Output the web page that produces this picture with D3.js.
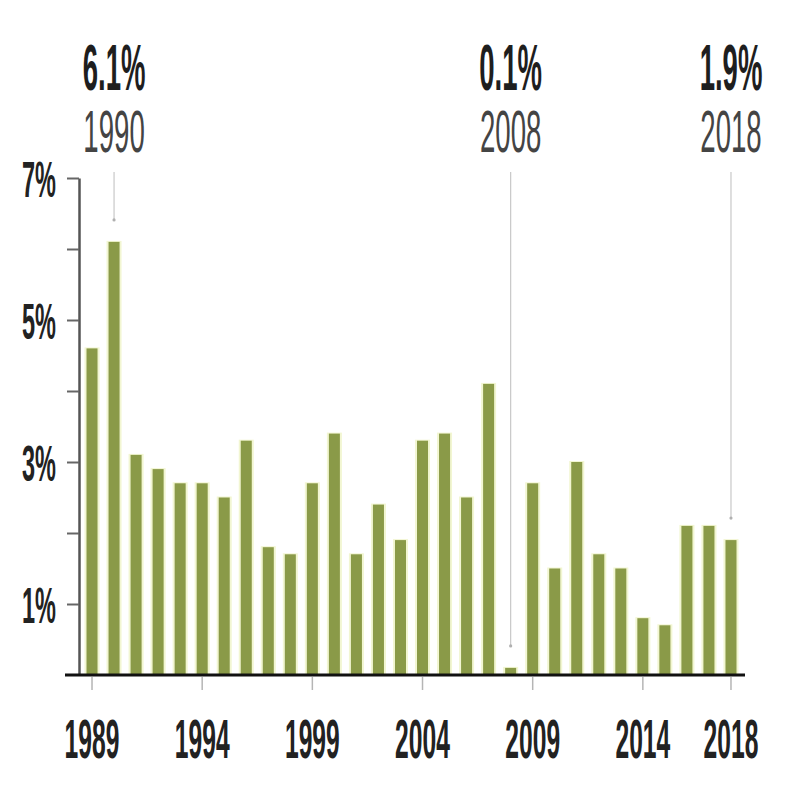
<!DOCTYPE html>
<html>
<head>
<meta charset="utf-8">
<script src="https://cdn.jsdelivr.net/npm/d3@7"></script>
<style>
html,body{margin:0;padding:0;background:#fff;}
svg{display:block;}
</style>
</head>
<body>
<svg id="chart" width="800" height="800"></svg>
<script>
const years = [1989,1990,1991,1992,1993,1994,1995,1996,1997,1998,1999,2000,2001,2002,2003,2004,2005,2006,2007,2008,2009,2010,2011,2012,2013,2014,2015,2016,2017,2018];
const values = [4.6,6.1,3.1,2.9,2.7,2.7,2.5,3.3,1.8,1.7,2.7,3.4,1.7,2.4,1.9,3.3,3.4,2.5,4.1,0.1,2.7,1.5,3.0,1.7,1.5,0.8,0.7,2.1,2.1,1.9];
const yTicks = [1,2,3,4,5,6,7];
const yLabelled = [1,3,5,7];
const xTicks = [1989,1994,1999,2004,2009,2014,2018];
const annotYears = [1990,2008,2018];
const annotLabels = ["6.1%","0.1%","1.9%"];

const data = years.map((y,i)=>({year:y, value:values[i]}));
const svg = d3.select("#chart");
const FONT = "'Liberation Sans',Arial,sans-serif";

const x = d3.scaleBand().domain(years).range([81,742]).paddingInner(0.5).paddingOuter(0.25);
const y = d3.scaleLinear().domain([0,7]).range([675,178]);

// bar halos (soft light edge)
svg.append("g").selectAll("rect").data(data).join("rect")
  .attr("x", d=>x(d.year)-2)
  .attr("width", x.bandwidth()+4)
  .attr("y", d=>y(d.value)-1)
  .attr("height", d=>y(0)-y(d.value)+1)
  .attr("fill","#f2f6d2");

svg.append("g").selectAll("rect").data(data).join("rect")
  .attr("x", d=>x(d.year))
  .attr("width", x.bandwidth())
  .attr("y", d=>y(d.value))
  .attr("height", d=>y(0)-y(d.value))
  .attr("fill","#8a9a48");

// annotation leader lines
const annot = annotYears.map((yr,i)=>({year:yr, label:annotLabels[i], value:values[years.indexOf(yr)]}));
const cx = d=>x(d.year)+x.bandwidth()/2;
svg.append("g").selectAll("line").data(annot).join("line")
  .attr("x1",cx).attr("x2",cx)
  .attr("y1",172)
  .attr("y2",d=>y(d.value)-22)
  .attr("stroke","#c8c8c8").attr("stroke-width",1.2);
svg.append("g").selectAll("circle").data(annot).join("circle")
  .attr("cx",cx).attr("cy",d=>y(d.value)-22).attr("r",1.6).attr("fill","#b0b0b0");

// annotation texts (condensed look via horizontal scaling)
const ag = svg.append("g");
ag.selectAll("text.v").data(annot).join("text").attr("class","v")
  .attr("transform",d=>`translate(${cx(d)},90) scale(0.43,1)`)
  .attr("text-anchor","middle")
  .attr("font-family",FONT).attr("font-weight","bold").attr("font-size",64)
  .attr("fill","#1e1e1e")
  .text(d=>d.label);
ag.selectAll("text.y").data(annot).join("text").attr("class","y")
  .attr("transform",d=>`translate(${cx(d)},152) scale(0.46,1)`)
  .attr("text-anchor","middle")
  .attr("font-family",FONT).attr("font-size",60)
  .attr("fill","#444")
  .text(d=>d.year);

// y axis
const yAxis = svg.append("g").attr("transform","translate(79,0)")
  .call(d3.axisLeft(y).tickValues(yTicks).tickSize(12).tickSizeOuter(0)
    .tickFormat(d=>yLabelled.includes(d)?d+"%":""));
yAxis.select(".domain").attr("stroke","#555").attr("stroke-width",2.5);
yAxis.selectAll(".tick line").attr("stroke","#666").attr("stroke-width",2);
yAxis.selectAll(".tick text")
  .attr("x",0).attr("y",0).attr("dy",null)
  .attr("transform","translate(-23,18) scale(0.47,1)")
  .attr("font-family",FONT).attr("font-weight","bold").attr("font-size",50)
  .attr("fill","#222");

// x axis
const xAxis = svg.append("g").attr("transform","translate(0,677)")
  .call(d3.axisBottom(x).tickValues(xTicks).tickSize(13).tickSizeOuter(0));
xAxis.select(".domain").remove();
xAxis.selectAll(".tick line").attr("stroke","#b5b5b5").attr("stroke-width",1.5);
xAxis.selectAll(".tick text")
  .attr("y",0).attr("dy",null)
  .attr("transform","translate(0,81) scale(0.44,1)")
  .attr("font-family",FONT).attr("font-weight","bold").attr("font-size",56)
  .attr("fill","#222");

// baseline
svg.append("line")
  .attr("x1",65).attr("x2",745)
  .attr("y1",y(0)).attr("y2",y(0))
  .attr("stroke","#111").attr("stroke-width",3);
</script>
</body>
</html>
